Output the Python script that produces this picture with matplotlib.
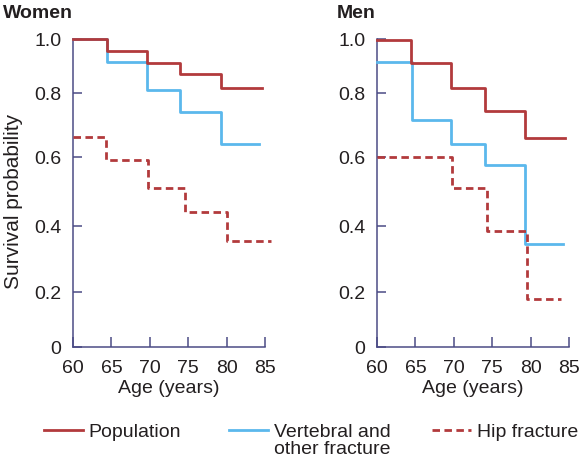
import numpy as np
import matplotlib
matplotlib.use("Agg")
import matplotlib.pyplot as plt
from matplotlib.lines import Line2D

plt.rcParams['font.family'] = ['Liberation Sans', 'DejaVu Sans']

# ---- data ----
age_ticks = [60, 65, 70, 75, 80, 85]
prob_ticks = [0, 0.2, 0.4, 0.6, 0.8, 1.0]
prob_labels = ['0', '0.2', '0.4', '0.6', '0.8', '1.0']

women_pop_x = [60, 64.4, 69.6, 73.9, 79.3, 84.6]
women_pop_y = [1.0, 0.956, 0.911, 0.87, 0.82, 0.82]
women_vert_x = [60, 64.4, 69.6, 73.9, 79.3, 84.2]
women_vert_y = [1.0, 0.915, 0.81, 0.74, 0.64, 0.64]
women_hip_x = [60, 64.3, 69.8, 74.6, 80.0, 85.8]
women_hip_y = [0.663, 0.59, 0.51, 0.44, 0.355, 0.355]

men_pop_x = [60, 64.4, 69.6, 74.1, 79.3, 84.5]
men_pop_y = [0.995, 0.911, 0.82, 0.744, 0.66, 0.66]
men_vert_x = [60, 64.6, 69.6, 74.1, 79.3, 84.2]
men_vert_y = [0.915, 0.716, 0.64, 0.577, 0.345, 0.345]
men_hip_x = [60, 69.8, 74.3, 79.5, 84.0]
men_hip_y = [0.6, 0.511, 0.385, 0.175, 0.175]

panel_titles = ['Women', 'Men']
legend_labels = ['Population', 'Vertebral and\nother fracture', 'Hip fracture']

# ---- style ----
RED = '#b23a3c'
BLUE = '#5bb8ec'
AXC = '#4b4b85'
TXT = '#231f20'
FS = 14
LW = 2.0
DASH = (0, (2.7, 1.6))

# uneven tick spacing of the original drawing
_ypos = np.array([0, 55, 121, 190, 254, 308]) / 308.0
def fwd(v):
    return np.interp(v, prob_ticks, _ypos)
def inv(p):
    return np.interp(p, _ypos, prob_ticks)

W, H = 580, 460
fig = plt.figure(figsize=(5.8, 4.6), dpi=100)
fig.patch.set_facecolor('white')

panels = [
    (73, women_pop_x, women_pop_y, women_vert_x, women_vert_y, women_hip_x, women_hip_y),
    (377, men_pop_x, men_pop_y, men_vert_x, men_vert_y, men_hip_x, men_hip_y),
]
axes = []
for left, px, py, vx, vy, hx, hy in panels:
    ax = fig.add_axes([left / W, 112 / H, 192 / W, 308 / H])
    ax.set_facecolor('none')
    ax.set_yscale('function', functions=(fwd, inv))
    ax.set_xlim(60, 85)
    ax.set_ylim(0, 1.0)
    ax.step(px, py, where='post', color=RED, lw=LW, clip_on=False, zorder=4)
    ax.step(vx, vy, where='post', color=BLUE, lw=LW, clip_on=False, zorder=3)
    ax.step(hx, hy, where='post', color=RED, lw=LW, ls=DASH, clip_on=False, zorder=5)
    for s in ['top', 'right']:
        ax.spines[s].set_visible(False)
    for s in ['left', 'bottom']:
        ax.spines[s].set_color(AXC)
        ax.spines[s].set_linewidth(1.1)
    ax.set_xticks(age_ticks)
    ax.set_xticklabels([str(a) for a in age_ticks])
    ax.set_yticks(prob_ticks)
    ax.set_yticklabels(prob_labels)
    ax.yaxis.set_minor_locator(plt.NullLocator())
    ax.tick_params(axis='x', direction='in', length=7, width=1.1, color=AXC,
                   labelsize=FS, labelcolor=TXT, pad=9)
    ax.tick_params(axis='y', direction='in', length=6.5, width=1.1, color=AXC,
                   labelsize=FS, labelcolor=TXT, pad=8.5)
    axes.append(ax)
    fig.text((left + 96) / W, 1 - 389 / H, 'Age (years)', ha='center', va='center',
             fontsize=FS, color=TXT)

fig.text(3 / W, 1 - 13 / H, panel_titles[0], ha='left', va='center',
         fontsize=FS, color=TXT, fontweight='bold')
fig.text(337 / W, 1 - 13 / H, panel_titles[1], ha='left', va='center',
         fontsize=FS, color=TXT, fontweight='bold')
fig.text(14 / W, 1 - 201 / H, 'Survival probability', rotation=90, ha='center',
         va='center', fontsize=15, color=TXT)

# legend
handles = [
    Line2D([], [], color=RED, lw=LW),
    Line2D([], [], color=BLUE, lw=LW),
    Line2D([], [], color=RED, lw=LW, ls=DASH),
]
leg_x = [44, 229, 432]
for h, lab, lx in zip(handles, legend_labels, leg_x):
    lg = fig.legend([h], [lab], loc='upper left', bbox_to_anchor=(lx / W, 1 - 424 / H),
                    frameon=False, fontsize=FS, handlelength=2.0, handletextpad=0.3,
                    borderpad=0, borderaxespad=0, labelspacing=0)
    for t in lg.get_texts():
        t.set_color(TXT)
        t.set_linespacing(1.0)
    try:
        item = lg._legend_handle_box.get_children()[0].get_children()[0]
        item.align = 'top'
    except Exception:
        pass

fig.savefig('out.png', dpi=100, facecolor='white')
